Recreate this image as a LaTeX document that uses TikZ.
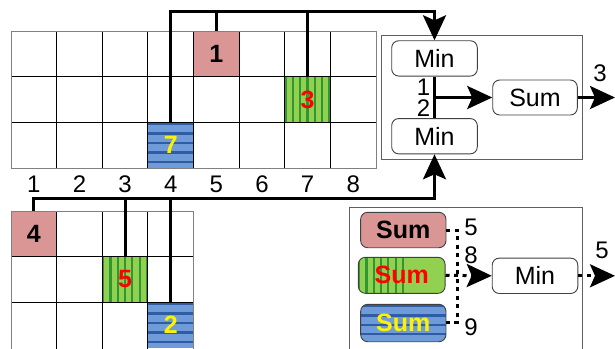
\documentclass[tikz,border=0pt]{standalone}
\usepackage{fontspec}
\setmainfont{Liberation Sans}
\usetikzlibrary{arrows.meta,calc}
\definecolor{pinkc}{HTML}{D99694}
\definecolor{lgreen}{HTML}{92D050}
\definecolor{dgreen}{HTML}{2E9632}
\definecolor{lblue}{HTML}{6F9CD8}
\definecolor{dblue}{HTML}{2E5DA6}
\definecolor{boxgray}{HTML}{606060}
\begin{document}
\begin{tikzpicture}[x=1pt,y=-1pt,
  txt/.style={font=\fontsize{24}{28}\selectfont, inner sep=0pt},
  cellnum/.style={font=\fontsize{25}{28}\selectfont\bfseries, inner sep=0pt},
  cellbox/.style={minimum width=45.6pt, minimum height=45.7pt, inner sep=0pt, anchor=center},
  pinkfill/.style={fill=pinkc},
  gstripe/.style={fill=lgreen, path picture={
      \foreach \k in {0,...,6}
        \draw[dgreen, line width=2.2pt]
          ([xshift=\k*7.3pt+0.8pt]path picture bounding box.north west) --
          ([xshift=\k*7.3pt+0.8pt]path picture bounding box.south west);}},
  bstripe/.style={fill=lblue, path picture={
      \foreach \k in {0,...,4}
        \draw[dblue, line width=2.3pt]
          ([yshift=-\k*9.4pt-1.8pt]path picture bounding box.north west) --
          ([yshift=-\k*9.4pt-1.8pt]path picture bounding box.north east);}},
  opbox/.style={draw=black!75, line width=0.9pt, rounded corners=7pt, minimum width=85.6pt,
      minimum height=35.3pt, inner sep=0pt, font=\fontsize{25}{28}\selectfont},
  gridline/.style={black, line width=0.9pt},
  outline/.style={gray, line width=1pt},
  boxline/.style={boxgray, line width=1pt},
  conn/.style={line width=3pt},
  dotconn/.style={line width=3pt, dash pattern=on 4pt off 4.5pt},
  tip/.style={-{Stealth[length=25pt,width=23pt,inset=5pt]}}
]
\clip (0,0) rectangle (615,348);
\useasboundingbox (0,0) rectangle (615,348);

% ---------- top grid cells ----------
\node[cellbox, pinkfill, cellnum] (p1) at (216.3,53.8) {1};
\node[cellbox, gstripe, cellnum, text=red] (g3) at (307.6,99.5) {3};
\node[cellbox, bstripe, cellnum, text=yellow] (b7) at (170.7,145.2) {7};
\foreach \i in {1,...,7} \draw[gridline] (11+\i*45.625,31) -- (11+\i*45.625,168);
\draw[gridline] (11,76.67) -- (376,76.67);
\draw[gridline] (11,122.33) -- (376,122.33);
\draw[outline] (11,31) rectangle (376,168);

% ---------- column labels ----------
\foreach \i in {1,...,8} \node[txt] (lab\i) at (11+\i*45.625-22.8,184.5) {\i};

% ---------- bottom grid cells ----------
\node[cellbox, pinkfill, cellnum] (p4) at (33.8,233.8) {4};
\node[cellbox, gstripe, cellnum, text=red] (g5) at (125.1,279.5) {5};
\node[cellbox, bstripe, cellnum, text=yellow] (b2) at (170.7,325.2) {2};
\foreach \i in {1,2,3} \draw[gridline] (11+\i*45.625,211) -- (11+\i*45.625,352);
\draw[gridline] (11,256.67) -- (193.5,256.67);
\draw[gridline] (11,302.33) -- (193.5,302.33);
\draw[outline] (11,352) -- (11,211) -- (193.5,211) -- (193.5,352);

% ---------- top right box ----------
\draw[boxline] (381.7,35) rectangle (582.3,159);
\node[opbox, fill=white] (min1) at (434.5,58.4) {Min};
\node[opbox, fill=white] (min2) at (434.5,136.2) {Min};
\node[opbox, fill=white, minimum width=84.6pt, minimum height=35pt] (sum1) at (535,97.5) {Sum};
\node[txt, anchor=east] (l1) at (430.5,87) {1};
\node[txt, anchor=east] (l2) at (430.5,108.5) {2};
\node[txt] (l3) at (600,73) {3};
\coordinate (out1) at (615,97.5);
\draw[conn] (min1.south) -- (min2.north);
\draw[conn, tip] (min1.south |- sum1.west) -- (sum1.west);
\draw[conn, tip] (sum1.east) -- (out1);

% ---------- bottom right box ----------
\draw[boxline] (349.3,207.7) rectangle (582.3,352);
\node[opbox, pinkfill, font=\fontsize{25}{28}\selectfont\bfseries, minimum width=85.3pt, minimum height=35.4pt] (sp) at (403.3,230) {Sum};
\node[opbox, gstripe, text=red, font=\fontsize{25}{28}\selectfont\bfseries, minimum width=86.7pt, minimum height=36pt] (sg) at (401.7,275.3) {Sum};
\node[opbox, bstripe, text=yellow, font=\fontsize{25}{28}\selectfont\bfseries, minimum width=85.3pt, minimum height=37.4pt] (sb) at (403.3,323) {Sum};
\node[opbox, fill=white] (min3) at (535,275.8) {Min};
\coordinate (vt) at (457.3,230);
\coordinate (vb) at (457.3,322);
\coordinate (out2) at (615,275.8);
\draw[dotconn] (sp.east) -- (vt) -- (vb) -- (sb.east |- vb);
\draw[dotconn, tip] (sg.east) -- (min3.west);
\draw[dotconn, tip] (min3.east) -- (out2);
\node[txt] (l5) at (471,227) {5};
\node[txt] (l8) at (471,255) {8};
\node[txt] (l9) at (471,327) {9};
\node[txt] (l5b) at (602,250) {5};

% ---------- buses ----------
\coordinate (topbus) at (0,11);
\coordinate (botbus) at (0,198.3);
\draw[conn, tip] (b7.north) |- (topbus -| min1.north) -- (min1.north);
\draw[conn] (p1.north) -- (p1.north |- topbus);
\draw[conn] (g3.north) -- (g3.north |- topbus);
\draw[conn, tip] (p4.north) |- (botbus -| min2.south) -- (min2.south);
\draw[conn] (g5.north) -- (g5.north |- botbus);
\draw[conn] (b2.north) -- (b2.north |- botbus);
\end{tikzpicture}
\end{document}
